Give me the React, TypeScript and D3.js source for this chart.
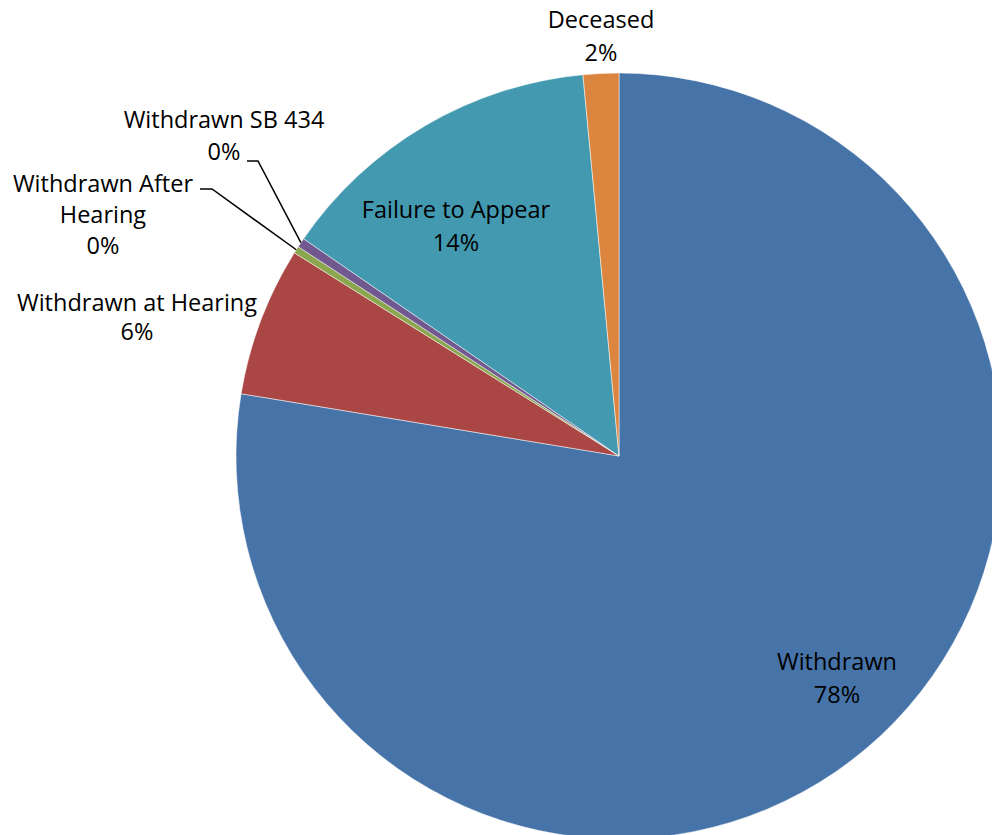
import { useEffect, useRef } from "react"
import * as d3 from "d3"

// slice data, clockwise from 12 o'clock
const categories = [
  "Withdrawn",
  "Withdrawn at Hearing",
  "Withdrawn After Hearing",
  "Withdrawn SB 434",
  "Failure to Appear",
  "Deceased",
]
const shares = [77.6, 6.3, 0.3, 0.4, 13.9, 1.5]
const percentLabels = ["78%", "6%", "0%", "0%", "14%", "2%"]
const labelLines = [
  ["Withdrawn"],
  ["Withdrawn at Hearing"],
  ["Withdrawn After", "Hearing"],
  ["Withdrawn SB 434"],
  ["Failure to Appear"],
  ["Deceased"],
]
const colors = ["#4673a8", "#aa4744", "#8aa64f", "#71598f", "#4299b0", "#dc853e"]

// label anchor (center x, first baseline) and line spacing
const labelLayout = [
  { x: 837, y: 670, dy: 33 },
  { x: 137, y: 311, dy: 29 },
  { x: 103, y: 192, dy: 31 },
  { x: 224, y: 128, dy: 32 },
  { x: 456, y: 218, dy: 33 },
  { x: 601, y: 28, dy: 33 },
]
// leader lines: [start of horizontal, elbow]
const leaders: Record<number, [number, number, number]> = {
  2: [200, 212, 189],
  3: [247, 258, 161],
}

export default function App() {
  const svgRef = useRef<SVGSVGElement>(null)

  useEffect(() => {
    document.body.style.margin = "0"
    if (!svgRef.current) return
    const svg = d3.select(svgRef.current)
    svg.selectAll("*").remove()

    const width = 992
    const height = 835
    const cx = 619
    const cy = 456
    const radius = 383

    const rows = categories.map((c, i) => ({ name: c, value: shares[i], i }))
    const pie = d3
      .pie<{ name: string; value: number; i: number }>()
      .sort(null)
      .value((d) => d.value)
    const arcs = pie(rows)
    const arc = d3
      .arc<d3.PieArcDatum<{ name: string; value: number; i: number }>>()
      .innerRadius(0)
      .outerRadius(radius)

    const g = svg.append("g").attr("transform", `translate(${cx},${cy})`)
    g.selectAll("path")
      .data(arcs)
      .join("path")
      .attr("d", arc)
      .attr("fill", (d) => colors[d.data.i])
      .attr("stroke", "#ffffff")
      .attr("stroke-width", 0.5)

    // leader lines for the tiny slices
    arcs.forEach((a) => {
      const l = leaders[a.data.i]
      if (!l) return
      const mid = (a.startAngle + a.endAngle) / 2
      const ex = cx + radius * Math.sin(mid)
      const ey = cy - radius * Math.cos(mid)
      svg
        .append("path")
        .attr("d", d3.line()([[l[0], l[2]], [l[1], l[2]], [ex, ey]]))
        .attr("fill", "none")
        .attr("stroke", "#000")
        .attr("stroke-width", 1.5)
    })

    const labels = svg
      .append("g")
      .attr("font-family", "'Open Sans', sans-serif")
      .attr("font-size", 23.5)
      .attr("fill", "#000")
      .attr("text-anchor", "middle")

    rows.forEach((r) => {
      const pos = labelLayout[r.i]
      const lines = [...labelLines[r.i], percentLabels[r.i]]
      const t = labels.append("text")
      lines.forEach((ln, k) => {
        t.append("tspan")
          .attr("x", pos.x)
          .attr("y", pos.y + k * pos.dy)
          .text(ln)
      })
    })

    svg.attr("width", width).attr("height", height)
  }, [])

  return <svg ref={svgRef} width={992} height={835} style={{ display: "block" }} />
}
